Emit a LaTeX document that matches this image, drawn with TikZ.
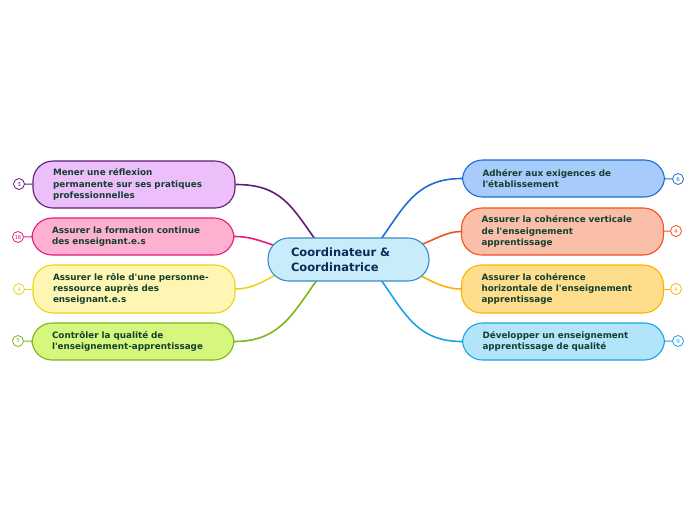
\documentclass[tikz,border=0pt]{standalone}
\usepackage{fontspec}
\setmainfont{DejaVu Sans}
\usetikzlibrary{backgrounds}
\definecolor{txt}{HTML}{13402F}
\definecolor{ctxt}{HTML}{0E2A58}
\definecolor{cB}{HTML}{3A8ACB}\definecolor{cF}{HTML}{C9ECFB}
\definecolor{puB}{HTML}{5E1D77}\definecolor{puF}{HTML}{ECBEFA}
\definecolor{piB}{HTML}{E8197A}\definecolor{piF}{HTML}{FDB0CF}
\definecolor{yeB}{HTML}{EDD21C}\definecolor{yeF}{HTML}{FFF6B3}
\definecolor{grB}{HTML}{7DB51B}\definecolor{grF}{HTML}{D6F77D}
\definecolor{blB}{HTML}{1F6BD6}\definecolor{blF}{HTML}{A7CBFA}
\definecolor{saB}{HTML}{F4511E}\definecolor{saF}{HTML}{F9BFA9}
\definecolor{orB}{HTML}{FFB300}\definecolor{orF}{HTML}{FEDD8C}
\definecolor{cyB}{HTML}{1BA2E6}\definecolor{cyF}{HTML}{B2E4FA}
\newcommand{\ap}{\textquotesingle}
\tikzset{
  topic/.style={draw=#1B, fill=#1F, line width=1.1pt, rounded corners=20pt,
    inner xsep=20pt, inner ysep=0pt, text width=162pt, align=left,
    minimum width=201pt, text=txt, font=\bfseries\fontsize{8.8}{11.4}\selectfont},
  central/.style={draw=cB, fill=cF, line width=1.1pt, rounded corners=21pt,
    inner xsep=23pt, inner ysep=0pt, text width=115pt, align=left,
    minimum width=161pt, minimum height=43pt, text=ctxt,
    font=\bfseries\fontsize{11.5}{15}\selectfont},
  badge/.style={circle, draw=#1B, fill=white, line width=0.8pt, inner sep=0pt,
    minimum size=11pt, text=#1B, font=\fontsize{5.5}{5.5}\selectfont},
  conn/.style={draw=#1B, line width=1.6pt},
  tick/.style={draw=#1B, line width=1pt}
}
\begin{document}
\begin{tikzpicture}[x=1pt,y=-1pt]
\useasboundingbox (0,0) rectangle (696,520);
\node[central] (c) at (348.5,259.5) {Coordinateur \&\\Coordinatrice};
% left
\node[topic=pu, minimum height=47pt] (l1) at (134,184.5) {Mener une réflexion\\permanente sur ses pratiques\\professionnelles};
\node[topic=pi, minimum height=37pt] (l2) at (133,236.5) {Assurer la formation continue\\des enseignant.e.s};
\node[topic=ye, minimum height=48pt] (l3) at (134,289) {Assurer le rôle d\ap une personne-\\ressource auprès des\\enseignant.e.s};
\node[topic=gr, minimum height=37pt] (l4) at (133,341.5) {Contrôler la qualité de\\l\ap enseignement-apprentissage};
% right
\node[topic=bl, minimum height=37pt] (r1) at (563.5,178.5) {Adhérer aux exigences de\\l\ap établissement};
\node[topic=sa, minimum height=47pt] (r2) at (562.5,231.5) {Assurer la cohérence verticale\\de l\ap enseignement\\apprentissage};
\node[topic=or, minimum height=48pt] (r3) at (562.5,289) {Assurer la cohérence\\horizontale de l\ap enseignement\\apprentissage};
\node[topic=cy, minimum height=37pt] (r4) at (563.5,341.5) {Développer un enseignement\\apprentissage de qualité};
% badges
\node[badge=pu] (n1) at (19,184) {3};
\node[badge=pi] (n2) at (18,237) {16};
\node[badge=ye] (n3) at (19,289) {4};
\node[badge=gr] (n4) at (18,341) {5};
\node[badge=bl] (n5) at (678,179) {6};
\node[badge=sa] (n6) at (676,231) {4};
\node[badge=or] (n7) at (676,289) {4};
\node[badge=cy] (n8) at (678,341) {9};
\begin{scope}[on background layer]
\draw[tick=pu] (n1) -- (l1);
\draw[tick=pi] (n2) -- (l2);
\draw[tick=ye] (n3) -- (l3);
\draw[tick=gr] (n4) -- (l4);
\draw[tick=bl] (n5) -- (r1);
\draw[tick=sa] (n6) -- (r2);
\draw[tick=or] (n7) -- (r3);
\draw[tick=cy] (n8) -- (r4);
\draw[conn=pu] ([shift={(-32.5,-19)}]c.center) .. controls +(-25,-35) and +(45,0) .. (l1.east);
\draw[conn=pi] ([shift={(-74,-14)}]c.center) .. controls +(-15,-5) and +(15,0) .. (l2.east);
\draw[conn=ye] ([shift={(-72,15)}]c.center) .. controls +(-15,8) and +(15,0) .. (l3.east);
\draw[conn=gr] ([shift={(-30.5,19)}]c.center) .. controls +(-25,35) and +(45,0) .. (l4.east);
\draw[conn=bl] ([shift={(31.5,-19)}]c.center) .. controls +(25,-35) and +(-45,0) .. (r1.west);
\draw[conn=sa] ([shift={(70,-14)}]c.center) .. controls +(15,-5) and +(-15,0) .. (r2.west);
\draw[conn=or] ([shift={(70,15)}]c.center) .. controls +(15,8) and +(-15,0) .. (r3.west);
\draw[conn=cy] ([shift={(31.5,19)}]c.center) .. controls +(25,35) and +(-45,0) .. (r4.west);
\end{scope}
\end{tikzpicture}
\end{document}
